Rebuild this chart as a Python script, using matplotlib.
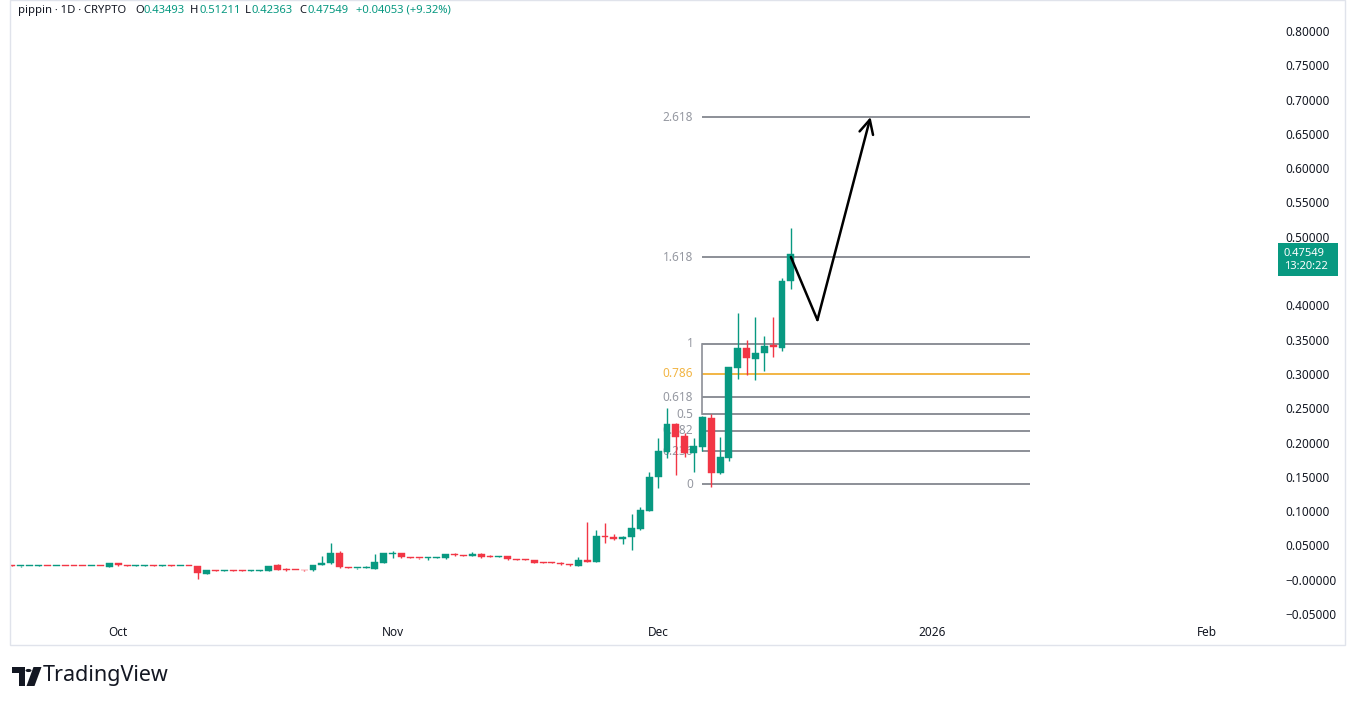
import matplotlib
matplotlib.use("Agg")
import matplotlib.pyplot as plt
import matplotlib.dates as mdates
from matplotlib.patches import Rectangle, Polygon, Circle
import datetime as dt
import numpy as np

plt.rcParams['font.family'] = ['Noto Sans', 'DejaVu Sans']

# ---------------- data ----------------
start_date = dt.date(2025, 9, 19)
opens = [0.0206, 0.0196, 0.0200, 0.0201, 0.0205, 0.0201, 0.0205, 0.0204, 0.0203, 0.0200,
         0.0205, 0.0193, 0.0239, 0.0207, 0.0202, 0.0203, 0.0206, 0.0201, 0.0206, 0.0200,
         0.0202, 0.0199, 0.0088, 0.0138, 0.0133, 0.0137, 0.0136, 0.0132, 0.0134, 0.0133,
         0.0210, 0.0150, 0.0146, 0.0141, 0.0137, 0.0212, 0.0240, 0.0385, 0.0181, 0.0168,
         0.0175, 0.0161, 0.0248, 0.0372, 0.0385, 0.0327, 0.0321, 0.0315, 0.0320, 0.0312,
         0.0375, 0.0356, 0.0346, 0.0370, 0.0350, 0.0331, 0.0346, 0.0298, 0.0294, 0.0283,
         0.0255, 0.0252, 0.0248, 0.0229, 0.0204, 0.0283, 0.0263, 0.0637, 0.0627, 0.0594,
         0.0618, 0.0735, 0.1006, 0.1502, 0.1866, 0.2270, 0.2095, 0.1852, 0.1940, 0.2353,
         0.1560, 0.1770, 0.3091, 0.3374, 0.3222, 0.3301, 0.3418, 0.3383, 0.43493]
highs = [0.0208, 0.0201, 0.0205, 0.0212, 0.0207, 0.0206, 0.0207, 0.0206, 0.0205, 0.0205,
         0.0207, 0.0243, 0.0243, 0.0210, 0.0214, 0.0208, 0.0208, 0.0214, 0.0215, 0.0205,
         0.0205, 0.0203, 0.0142, 0.0141, 0.0139, 0.0140, 0.0139, 0.0138, 0.0140, 0.0203,
         0.0233, 0.0170, 0.0149, 0.0144, 0.0222, 0.0345, 0.0540, 0.0414, 0.0185, 0.0178,
         0.0195, 0.0375, 0.0390, 0.0423, 0.0388, 0.0330, 0.0324, 0.0328, 0.0332, 0.0374,
         0.0385, 0.0360, 0.0410, 0.0394, 0.0354, 0.0349, 0.0349, 0.0301, 0.0297, 0.0286,
         0.0258, 0.0255, 0.0252, 0.0232, 0.0327, 0.0846, 0.0725, 0.0831, 0.0666, 0.0635,
         0.0958, 0.1056, 0.1570, 0.2062, 0.2499, 0.2290, 0.2135, 0.2062, 0.2383, 0.2416,
         0.2085, 0.3103, 0.3893, 0.3495, 0.3835, 0.3553, 0.3835, 0.4394, 0.51211]
lows = [0.0200, 0.0193, 0.0198, 0.0196, 0.0200, 0.0199, 0.0200, 0.0199, 0.0198, 0.0198,
        0.0199, 0.0190, 0.0206, 0.0200, 0.0196, 0.0200, 0.0199, 0.0196, 0.0198, 0.0196,
        0.0196, 0.0006, 0.0085, 0.0131, 0.0130, 0.0130, 0.0130, 0.0130, 0.0131, 0.0130,
        0.0143, 0.0132, 0.0138, 0.0134, 0.0133, 0.0208, 0.0236, 0.0178, 0.0170, 0.0160,
        0.0170, 0.0158, 0.0239, 0.0312, 0.0322, 0.0316, 0.0305, 0.0290, 0.0312, 0.0309,
        0.0350, 0.0345, 0.0343, 0.0312, 0.0328, 0.0328, 0.0295, 0.0288, 0.0286, 0.0245,
        0.0245, 0.0244, 0.0220, 0.0205, 0.0200, 0.0258, 0.0258, 0.0531, 0.0580, 0.0520,
        0.0433, 0.0728, 0.0998, 0.1333, 0.1770, 0.1527, 0.1785, 0.1575, 0.1877, 0.1356,
        0.1540, 0.1735, 0.2920, 0.2986, 0.2912, 0.3047, 0.3251, 0.3330, 0.42363]
closes = [0.0203, 0.0199, 0.0203, 0.0204, 0.0202, 0.0204, 0.0202, 0.0201, 0.0200, 0.0203,
          0.0202, 0.0239, 0.0210, 0.0203, 0.0205, 0.0206, 0.0202, 0.0204, 0.0202, 0.0203,
          0.0198, 0.0093, 0.0137, 0.0134, 0.0136, 0.0134, 0.0133, 0.0136, 0.0137, 0.0200,
          0.0146, 0.0141, 0.0142, 0.0137, 0.0219, 0.0248, 0.0385, 0.0181, 0.0175, 0.0174,
          0.0190, 0.0258, 0.0385, 0.0378, 0.0327, 0.0320, 0.0315, 0.0320, 0.0327, 0.0370,
          0.0356, 0.0350, 0.0375, 0.0336, 0.0331, 0.0346, 0.0298, 0.0292, 0.0290, 0.0248,
          0.0250, 0.0248, 0.0225, 0.0210, 0.0283, 0.0263, 0.0637, 0.0623, 0.0589, 0.0627,
          0.0754, 0.1016, 0.1502, 0.1877, 0.2270, 0.2085, 0.1843, 0.1950, 0.2368, 0.1552,
          0.1785, 0.3097, 0.3374, 0.3228, 0.3301, 0.3408, 0.3389, 0.43496, 0.47549]

# price scale labels (0.45000 is hidden behind the last-price label in the reference)
price_ticks = [-0.05, 0.0, 0.05, 0.10, 0.15, 0.20, 0.25, 0.30, 0.35, 0.40,
               0.50, 0.55, 0.60, 0.65, 0.70, 0.75, 0.80]
price_tick_labels = ["\u22120.05000", "\u22120.00000", "0.05000", "0.10000", "0.15000",
                     "0.20000", "0.25000", "0.30000", "0.35000", "0.40000",
                     "0.50000", "0.55000", "0.60000", "0.65000", "0.70000", "0.75000",
                     "0.80000"]
month_ticks = [dt.date(2025, 10, 1), dt.date(2025, 11, 1), dt.date(2025, 12, 1),
               dt.date(2026, 1, 1), dt.date(2026, 2, 1)]
month_labels = ["Oct", "Nov", "Dec", "2026", "Feb"]

fib_levels = [0, 0.236, 0.382, 0.5, 0.618, 0.786, 1, 1.618, 2.618]
fib_labels = ["0", "0.236", "0.382", "0.5", "0.618", "0.786", "1", "1.618", "2.618"]
fib_low, fib_high = 0.1395, 0.3437
fib_start, fib_end = dt.date(2025, 12, 6), dt.date(2026, 1, 12)

arrow_dates = [dt.date(2025, 12, 16), dt.date(2025, 12, 19), dt.date(2025, 12, 25)]
arrow_prices = [0.4705, 0.3787, 0.6746]

symbol_text = "pippin \u00b7 1D \u00b7 CRYPTO"
timer_text = "13:20:22"

# ---------------- styling ----------------
GREEN = "#089981"
RED = "#F23645"
TEXT = "#131722"
FIBGREY = "#8c8f97"
FIBORANGE = "#f2b544"

W, H = 1354, 705
fig = plt.figure(figsize=(W / 100, H / 100), dpi=100)
fig.patch.set_facecolor("white")
ax = fig.add_axes([10 / W, (H - 622) / H, 1265 / W, 622 / H])
ax.set_facecolor("white")

xs = mdates.date2num([start_date + dt.timedelta(days=i) for i in range(len(opens))])
o = np.array(opens); h = np.array(highs); l = np.array(lows); c = np.array(closes)
cols = [GREEN if cc >= oo else RED for oo, cc in zip(o, c)]

ax.set_xlim(mdates.date2num(dt.date(2025, 9, 19)) - 0.23, mdates.date2num(dt.date(2026, 2, 8)) + 0.7)
ax.set_ylim(-0.0616, 0.8452)

# Fibonacci levels
fx0 = mdates.date2num(fib_start)
fx1 = mdates.date2num(fib_end)
for lev, lab in zip(fib_levels, fib_labels):
    p = fib_low + lev * (fib_high - fib_low)
    colr = FIBORANGE if lev == 0.786 else FIBGREY
    ax.plot([fx0, fx1], [p, p], color=colr, lw=1.4, zorder=1, solid_capstyle="butt")
    ax.annotate(lab, xy=(fx0, p), xytext=(-6.5, 0), textcoords="offset points",
                ha="right", va="center", fontsize=8.5,
                color=FIBORANGE if lev == 0.786 else "#9598a1", zorder=1)
ax.plot([fx0, fx0], [fib_low + 0.5 * (fib_high - fib_low), fib_high], color=FIBGREY, lw=1.2, zorder=1)

# candles
ax.vlines(xs, l, h, colors=cols, lw=1.0, zorder=3)
bottoms = np.minimum(o, c)
heights = np.maximum(np.abs(c - o), 0.0012)
ax.bar(xs, heights, bottom=bottoms, width=0.78, color=cols, edgecolor=cols, lw=0.3, zorder=4)

# projection arrow
axd = mdates.date2num(arrow_dates)
ax.plot(axd[:2], arrow_prices[:2], color="black", lw=1.8, zorder=5, solid_capstyle="round")
ax.annotate("", xy=(axd[2], arrow_prices[2]), xytext=(axd[1], arrow_prices[1]),
            arrowprops=dict(arrowstyle="->,head_length=1.0,head_width=0.5", lw=1.8,
                            color="black", shrinkA=0, shrinkB=0), zorder=5)

# axes
for s in ax.spines.values():
    s.set_visible(False)
ax.yaxis.tick_right()
ax.set_yticks(price_ticks)
ax.set_yticklabels(price_tick_labels)
ax.tick_params(axis="y", length=0, pad=7.5, labelsize=8.5, labelcolor=TEXT)
ax.set_xticks(mdates.date2num(month_ticks))
ax.set_xticklabels(month_labels)
ax.tick_params(axis="x", length=0, pad=3, labelsize=8.5, labelcolor=TEXT)
for t in ax.get_xticklabels():
    if t.get_text() == "2026":
        t.set_fontweight("bold")

# frame
fig.patches.append(Rectangle((10 / W, (H - 645) / H), 1335 / W, 645 / H, transform=fig.transFigure,
                             fill=False, edgecolor="#e0e3eb", lw=1.0))

# header
last_o, last_h, last_l, last_c = opens[-1], highs[-1], lows[-1], closes[-1]
chg = last_c - closes[-2]
pct = chg / closes[-2] * 100
hy = 1 - 10.5 / H
pieces = [(symbol_text, 18, TEXT), ("O", 135, TEXT), (f"{last_o:.5f}", 143, GREEN),
          ("H", 190, TEXT), (f"{last_h:.5f}", 199, GREEN),
          ("L", 245, TEXT), (f"{last_l:.5f}", 252, GREEN),
          ("C", 299, TEXT), (f"{last_c:.5f}", 308, GREEN),
          (f"+{chg:.5f} (+{pct:.2f}%)", 356, GREEN)]
for txt, px, colr in pieces:
    fig.text(px / W, hy, txt, fontsize=8.1, color=colr, ha="left", va="center")

# last price label (one two-line text in a teal box)
ypix = ax.transData.transform((xs[-1], last_c))[1]
fig.patches.append(Rectangle((1278 / W, (ypix - 22.5) / H), 60 / W, 33 / H,
                             transform=fig.transFigure, facecolor=GREEN, edgecolor="none"))
fig.text(1284 / W, (ypix - 6.5) / H, f"{last_c:.5f}\n{timer_text}", fontsize=8.0,
         fontweight="bold", color="white", ha="left", va="center", linespacing=1.15)

# TradingView logo
def P(x, y):
    return (x / W, 1 - y / H)
fig.patches.append(Polygon([P(12, 667), P(24.5, 667), P(24.5, 686), P(18.5, 686), P(18.5, 673), P(12, 673)],
                           closed=True, transform=fig.transFigure, facecolor=TEXT, edgecolor="none"))
fig.patches.append(Circle(P(28.5, 670.5), 3.0 / W, transform=fig.transFigure, facecolor=TEXT, edgecolor="none"))
fig.patches.append(Polygon([P(33.5, 667), P(41.5, 667), P(34.5, 686), P(26.5, 686)],
                           closed=True, transform=fig.transFigure, facecolor=TEXT, edgecolor="none"))
fig.text(43 / W, 1 - 676 / H, "TradingView", fontsize=15.5, fontweight="bold", color=TEXT,
         ha="left", va="center")

fig.savefig("out.png", dpi=100, facecolor="white")
